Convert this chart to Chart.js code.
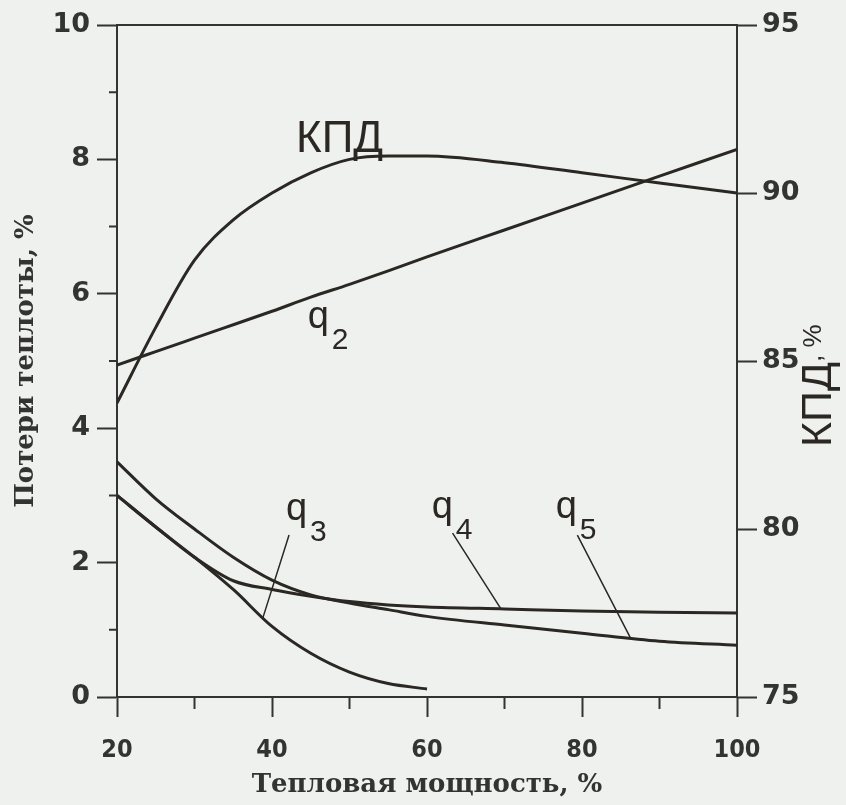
<!DOCTYPE html>
<html>
<head>
<meta charset="utf-8">
<script src="https://cdn.jsdelivr.net/npm/chart.js@4.4.1/dist/chart.umd.min.js"></script>
<style>
  body { margin: 0; background: #eff1ee; }
  canvas { display: block; }
</style>
</head>
<body>
<canvas id="lossChart" width="846" height="805"></canvas>
<script>
/* --------------- Data ------------------------------------------ */
const loadPct = [20, 25, 30, 35, 40, 45, 50, 55, 60, 70, 80, 90, 100];
const kpd = [83.75, 86.0, 88.0, 89.2, 90.0, 90.6, 91.0, 91.1, 91.1, 90.9, 90.6, 90.3, 90.0];
const q2 = [4.94, 5.14, 5.34, 5.54, 5.74, 5.95, 6.14, 6.34, 6.55, 6.95, 7.35, 7.75, 8.15];
const q3 = [3.0, 2.53, 2.08, 1.6, 1.05, 0.65, 0.37, 0.2, 0.12, null, null, null, null];
const q4 = [3.0, 2.53, 2.08, 1.73, 1.6, 1.5, 1.42, 1.37, 1.34, 1.31, 1.28, 1.26, 1.25];
const q5 = [3.5, 2.95, 2.5, 2.08, 1.74, 1.52, 1.4, 1.3, 1.2, 1.07, 0.95, 0.83, 0.77];

const lossTicks = [0, 2, 4, 6, 8, 10];
const lossMinorTicks = [1, 3, 5, 7, 9];
const kpdTicks = [75, 80, 85, 90, 95];
const loadTicks = [20, 40, 60, 80, 100];
const loadMinorTicks = [30, 50, 70, 90];

/* --------------- Curve labels (in % load / % loss units) --------------------- */
const curveLabels = [
  { text: "КПД", sub: "", x: 43.1, y: 8.11 },
  { text: "q", sub: "2", x: 44.6, y: 5.49 },
  { text: "q", sub: "3", x: 41.8, y: 2.63 },
  { text: "q", sub: "4", x: 60.6, y: 2.66 },
  { text: "q", sub: "5", x: 76.6, y: 2.66 },
];
const leaders = [
  [42.2, 2.41, 38.8, 1.17],
  [63.3, 2.44, 69.5, 1.32],
  [79.4, 2.41, 86.3, 0.87],
];

const ink = "#2b2723";
const axisInk = "#333333";

const toPoints = (ys) => loadPct.map((x, i) => ({ x: x, y: ys[i] }));

const curve = (label, ys, axis) => ({
  label: label,
  data: toPoints(ys),
  yAxisID: axis,
  borderColor: ink,
  borderWidth: 3,
  pointRadius: 0,
  cubicInterpolationMode: "monotone",
  spanGaps: false,
});

/* --------------- Extra drawing: frame top, minor ticks, labels --------------------- */
const decorations = {
  id: "decorations",
  afterDraw(chart) {
    const ctx = chart.ctx;
    const area = chart.chartArea;
    const sx = chart.scales.x;
    const sy = chart.scales.y;
    ctx.save();
    ctx.strokeStyle = axisInk;
    ctx.lineWidth = 2;
    // top frame line
    ctx.beginPath();
    ctx.moveTo(area.left, area.top);
    ctx.lineTo(area.right, area.top);
    ctx.stroke();
    // minor ticks
    ctx.beginPath();
    lossMinorTicks.forEach((v) => {
      const py = sy.getPixelForValue(v);
      ctx.moveTo(area.left - 8, py);
      ctx.lineTo(area.left, py);
    });
    loadMinorTicks.forEach((v) => {
      const px = sx.getPixelForValue(v);
      ctx.moveTo(px, area.bottom);
      ctx.lineTo(px, area.bottom + 12);
    });
    ctx.stroke();
    // leader lines
    ctx.strokeStyle = ink;
    ctx.lineWidth = 1.5;
    ctx.beginPath();
    leaders.forEach((l) => {
      ctx.moveTo(sx.getPixelForValue(l[0]), sy.getPixelForValue(l[1]));
      ctx.lineTo(sx.getPixelForValue(l[2]), sy.getPixelForValue(l[3]));
    });
    ctx.stroke();
    // curve labels
    ctx.fillStyle = ink;
    ctx.textBaseline = "alphabetic";
    ctx.textAlign = "left";
    curveLabels.forEach((l) => {
      const px = sx.getPixelForValue(l.x);
      const py = sy.getPixelForValue(l.y);
      if (l.sub) {
        ctx.font = "38px 'Liberation Sans Narrow', 'Liberation Sans', sans-serif";
        ctx.fillText(l.text, px, py);
        ctx.font = "30px 'Liberation Sans Narrow', 'Liberation Sans', sans-serif";
        ctx.fillText(l.sub, px + 24, py + 21);
      } else {
        ctx.font = "44px 'Liberation Sans', sans-serif";
        ctx.fillText(l.text, px, py);
      }
    });
    // right axis title, reading bottom to top
    ctx.translate(831, 447);
    ctx.rotate(-Math.PI / 2);
    ctx.font = "43px 'Liberation Sans', sans-serif";
    ctx.fillText("КПД", 0, 0);
    const w = ctx.measureText("КПД").width;
    ctx.font = "26px 'Liberation Sans', sans-serif";
    ctx.fillText(", %", w, -10);
    ctx.restore();
  },
};

const tickGrid = {
  drawOnChartArea: false,
  drawTicks: true,
  tickLength: 20,
  tickColor: axisInk,
  tickWidth: 2,
};
const axisBorder = { display: true, color: axisInk, width: 2 };

new Chart(document.getElementById("lossChart"), {
  type: "line",
  data: {
    datasets: [
      curve("КПД", kpd, "yKpd"),
      curve("q2", q2, "y"),
      curve("q3", q3, "y"),
      curve("q4", q4, "y"),
      curve("q5", q5, "y"),
    ],
  },
  plugins: [decorations],
  options: {
    responsive: false,
    animation: false,
    layout: { padding: { top: 25 } },
    plugins: {
      legend: { display: false },
      tooltip: { enabled: false },
    },
    scales: {
      x: {
        type: "linear",
        min: 20,
        max: 100,
        afterBuildTicks: (s) => { s.ticks = loadTicks.map((v) => ({ value: v })); },
        afterFit: (s) => { s.height = 108; },
        grid: tickGrid,
        border: axisBorder,
        ticks: {
          color: axisInk,
          padding: 18,
          maxRotation: 0,
          font: { family: "'DejaVu Sans Condensed', 'DejaVu Sans', sans-serif", size: 25, weight: "bold" },
        },
        title: {
          display: true,
          text: "Тепловая мощность, %",
          color: axisInk,
          padding: { top: 0, bottom: 4 },
          font: { family: "'DejaVu Serif', serif", size: 26, weight: "bold" },
        },
      },
      y: {
        position: "left",
        min: 0,
        max: 10,
        afterBuildTicks: (s) => { s.ticks = lossTicks.map((v) => ({ value: v })); },
        afterFit: (s) => { s.width = 117; },
        grid: tickGrid,
        border: axisBorder,
        ticks: {
          color: axisInk,
          padding: 7,
          font: { family: "'DejaVu Sans', sans-serif", size: 27, weight: "bold" },
        },
        title: {
          display: true,
          text: "Потери теплоты, %",
          color: axisInk,
          padding: { top: 11, bottom: 0 },
          font: { family: "'DejaVu Serif', serif", size: 26, weight: "bold" },
        },
      },
      yKpd: {
        position: "right",
        min: 75,
        max: 95,
        afterBuildTicks: (s) => { s.ticks = kpdTicks.map((v) => ({ value: v })); },
        afterFit: (s) => { s.width = 109; },
        grid: tickGrid,
        border: axisBorder,
        ticks: {
          color: axisInk,
          padding: 5,
          font: { family: "'DejaVu Sans', sans-serif", size: 27, weight: "bold" },
        },
      },
    },
  },
});
</script>
</body>
</html>
